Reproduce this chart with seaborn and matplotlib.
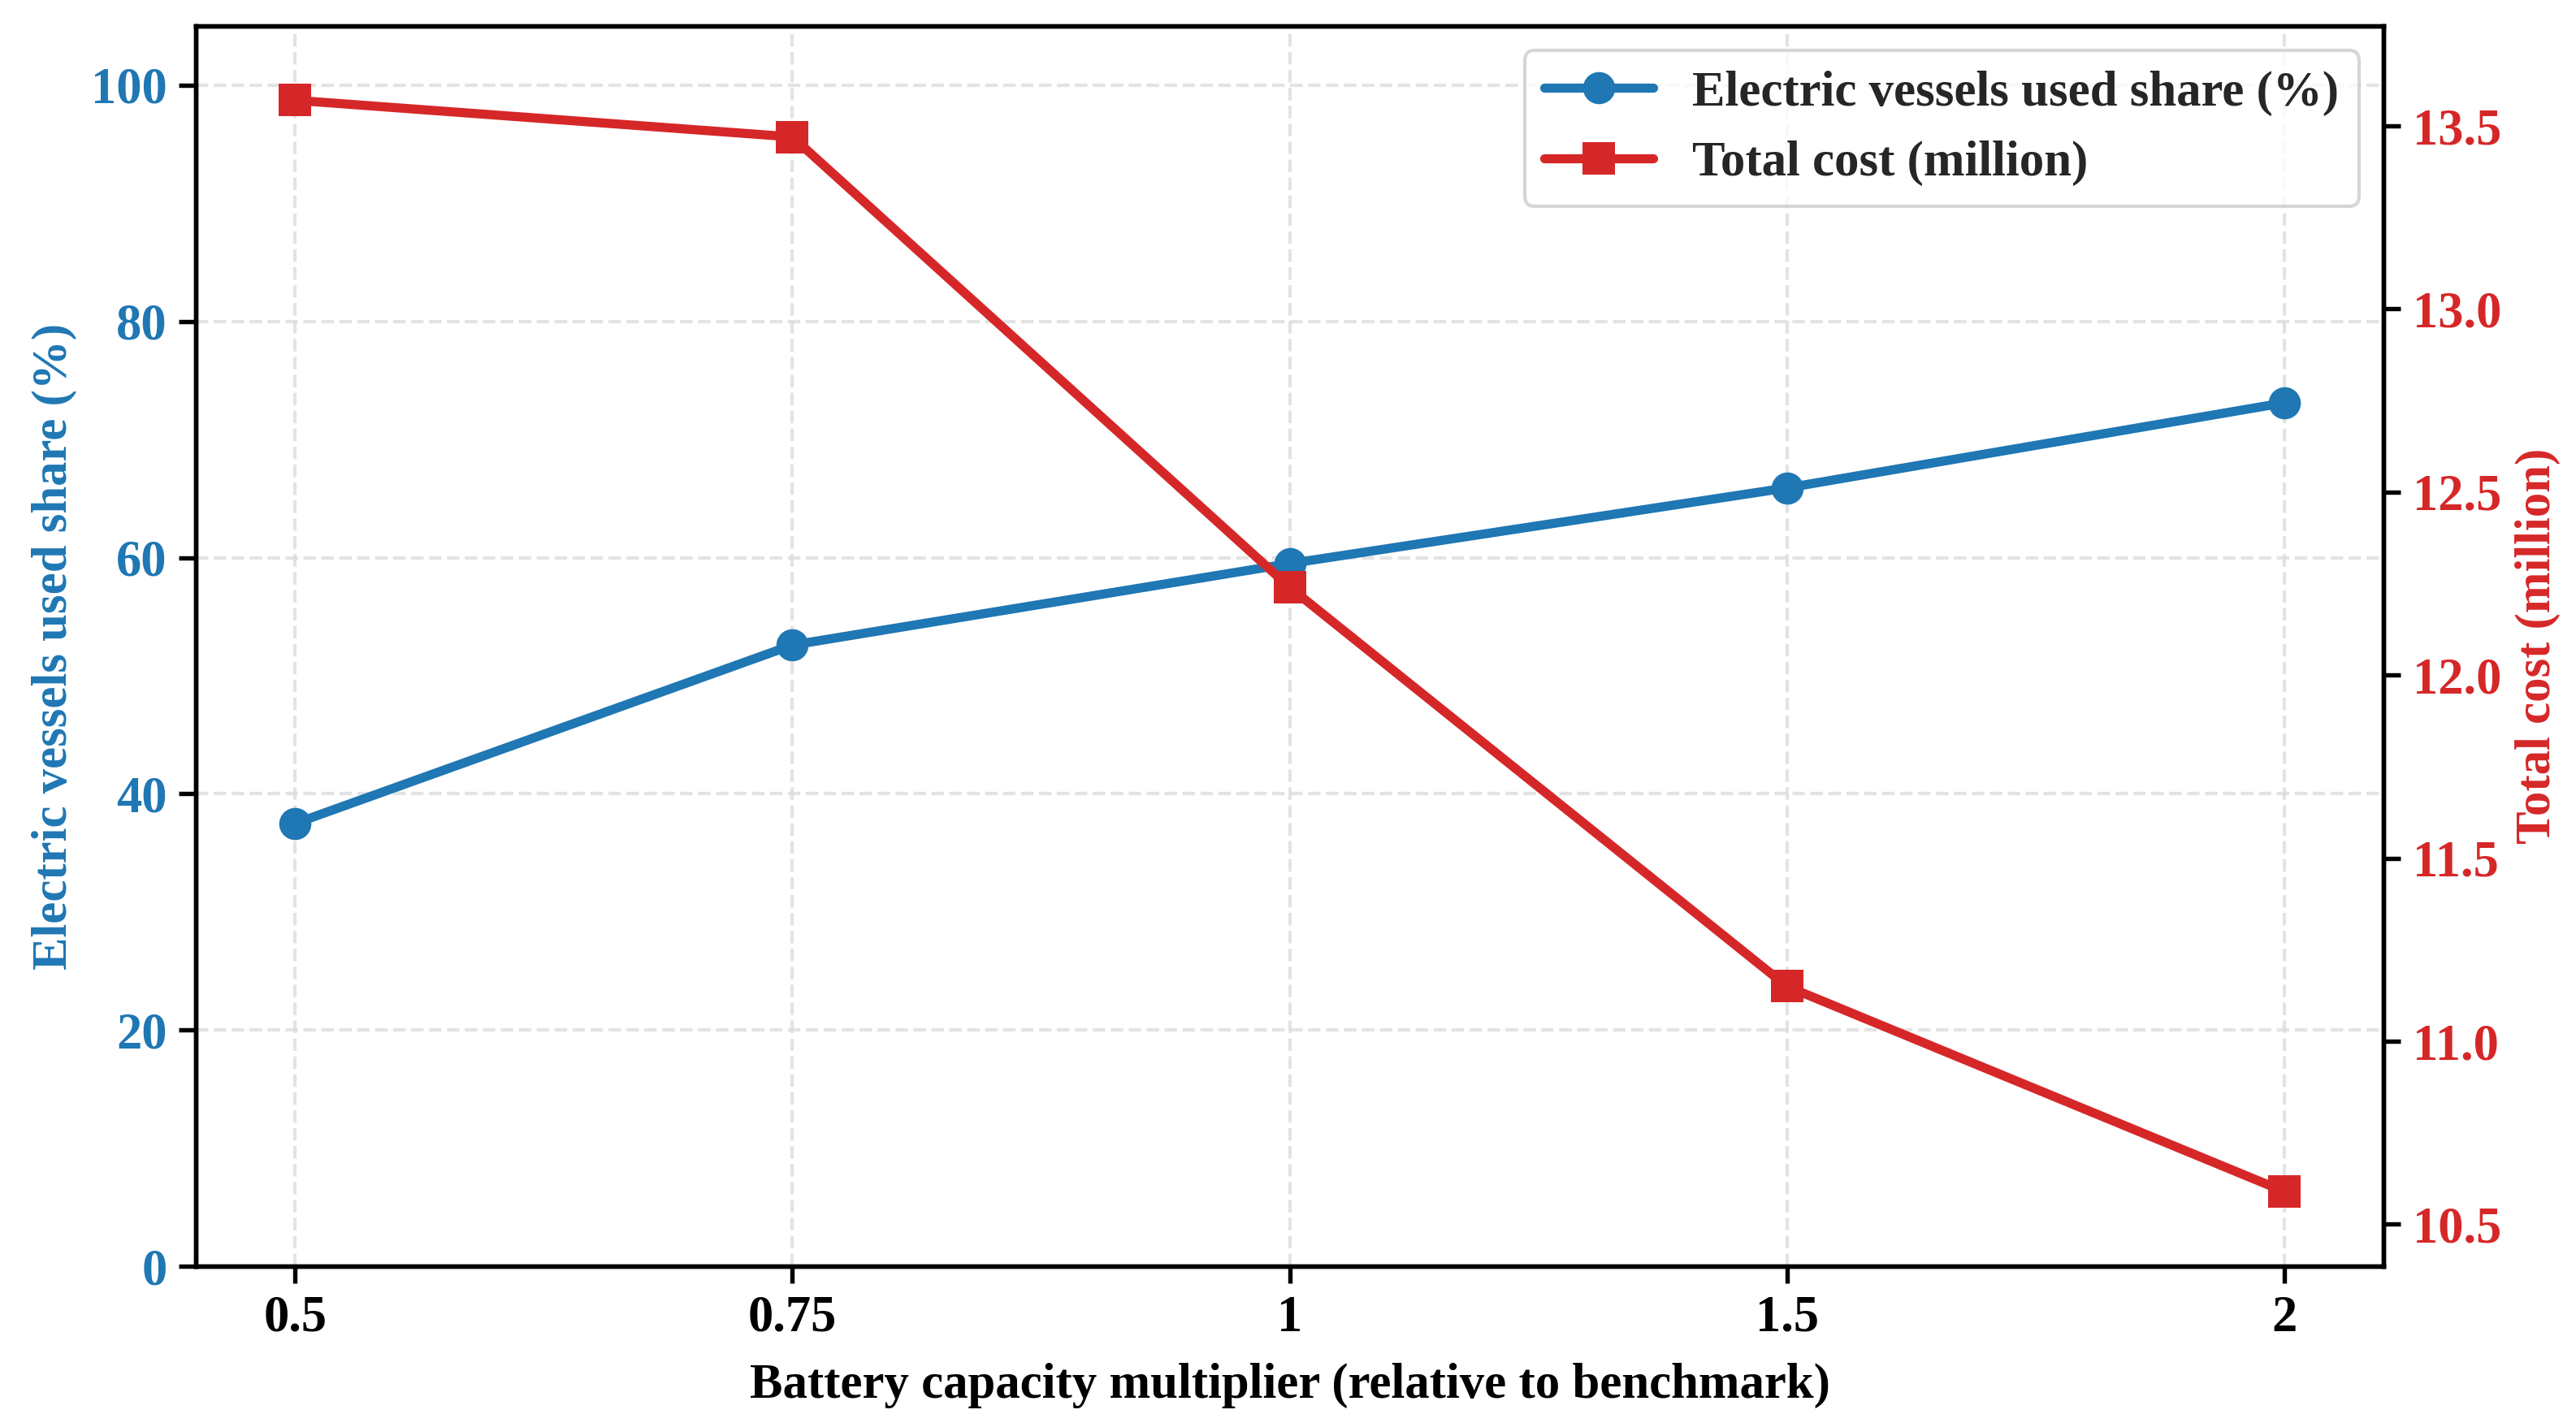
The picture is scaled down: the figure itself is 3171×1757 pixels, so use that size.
import matplotlib
matplotlib.use("Agg")
import matplotlib.pyplot as plt
import seaborn as sns
import pandas as pd

# ---- data ----
multipliers = ["0.5", "0.75", "1", "1.5", "2"]
electric_share = [37.5, 52.6, 59.5, 65.9, 73.1]
total_cost = [13.57, 13.47, 12.24, 11.15, 10.59]

share_label = "Electric vessels used share (%)"
cost_label = "Total cost (million)"
x_label = "Battery capacity multiplier (relative to benchmark)"

blue = "#1f77b4"
red = "#d62728"

sns.set_theme(style="white")
plt.rcParams["font.family"] = ["Liberation Serif", "DejaVu Serif"]
plt.rcParams["font.weight"] = "bold"
plt.rcParams["axes.labelweight"] = "bold"

df = pd.DataFrame({"mult": multipliers, "share": electric_share, "cost": total_cost})

fig = plt.figure(figsize=(3171 / 300, 1757 / 300), dpi=300)
ax1 = fig.add_axes([0.0760, 0.1125, 0.9253 - 0.0760, 0.9818 - 0.1125])

lw = 2.7
ms = 9.5
sns.lineplot(data=df, x="mult", y="share", ax=ax1, color=blue, marker="o",
             markersize=ms, linewidth=lw, markeredgewidth=0, sort=False,
             label=share_label, legend=False)
ax2 = ax1.twinx()
sns.lineplot(data=df, x="mult", y="cost", ax=ax2, color=red, marker="s",
             markersize=ms, linewidth=lw, markeredgewidth=0, sort=False,
             label=cost_label, legend=False)

ax1.set_xlim(-0.2, 4.2)
ax1.set_ylim(0, 105)
ax2.set_ylim(10.385, 13.773)
ax1.set_yticks([0, 20, 40, 60, 80, 100])
ax2.set_yticks([10.5, 11.0, 11.5, 12.0, 12.5, 13.0, 13.5])
ax2.set_yticklabels([f"{v:.1f}" for v in [10.5, 11.0, 11.5, 12.0, 12.5, 13.0, 13.5]])

fs = 14.6
tfs = 15
ax1.set_xlabel(x_label, fontsize=fs, fontweight="bold", color="black", labelpad=6)
ax1.set_ylabel(share_label, fontsize=fs, fontweight="bold", color=blue)
ax2.set_ylabel(cost_label, fontsize=fs, fontweight="bold", color=red)

ax1.tick_params(axis="x", labelsize=tfs, colors="black", length=5, width=1.3,
                direction="out", bottom=True)
ax1.tick_params(axis="y", labelsize=tfs, labelcolor=blue, color="black",
                length=5, width=1.3, direction="out", left=True)
ax2.tick_params(axis="y", labelsize=tfs, labelcolor=red, color="black",
                length=5, width=1.3, direction="out", right=True)
for lab in ax1.get_xticklabels() + ax1.get_yticklabels() + ax2.get_yticklabels():
    lab.set_fontweight("bold")

for ax in (ax1, ax2):
    for sp in ax.spines.values():
        sp.set_color("black")
        sp.set_linewidth(1.3)

ax1.grid(True, linestyle="--", color="#dcdcdc", linewidth=1.0, alpha=0.8)
ax2.grid(False)
ax1.set_axisbelow(True)

h1, l1 = ax1.get_legend_handles_labels()
h2, l2 = ax2.get_legend_handles_labels()
leg = ax2.legend(h1 + h2, l1 + l2, loc="upper right",
                 prop={"weight": "bold", "size": fs}, frameon=True,
                 framealpha=0.8, edgecolor="#cccccc", fancybox=True,
                 handlelength=2.2)

fig.savefig("out.png", dpi=300)
